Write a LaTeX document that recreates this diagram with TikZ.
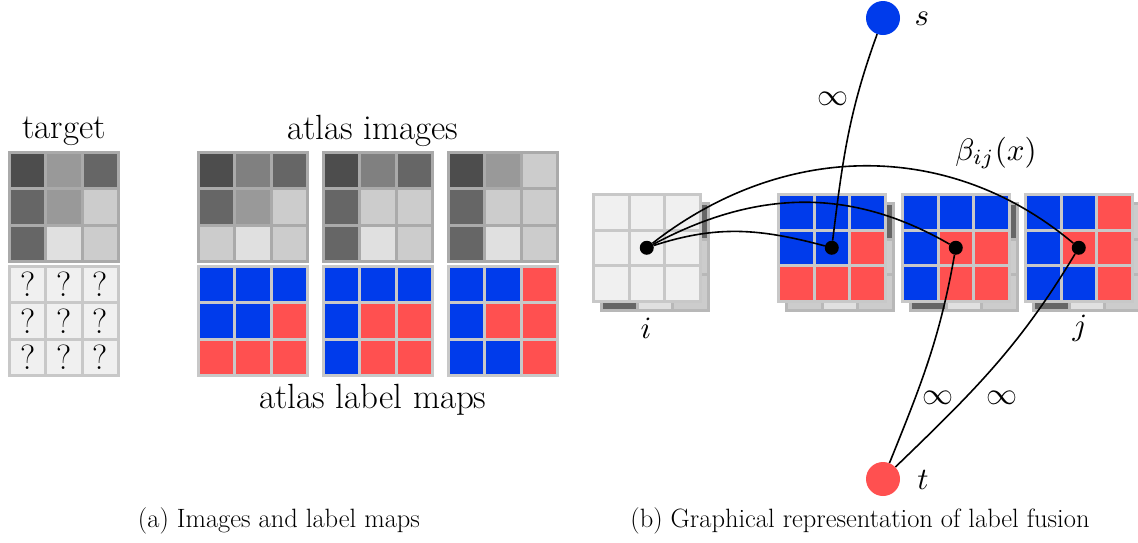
\documentclass[tikz,border=0pt]{standalone}
\usepackage{fontspec}
\definecolor{ga}{HTML}{4D4D4D}
\definecolor{gb}{HTML}{666666}
\definecolor{gc}{HTML}{808080}
\definecolor{gd}{HTML}{999999}
\definecolor{ge}{HTML}{CCCCCC}
\definecolor{gf}{HTML}{E0E0E0}
\definecolor{qq}{HTML}{F0F0F0}
\definecolor{bl}{HTML}{003BEB}
\definecolor{rd}{HTML}{FF5050}
\definecolor{imgborder}{HTML}{AAAAAA}
\definecolor{labborder}{HTML}{C8C8C8}
\definecolor{backborder}{HTML}{B8B8B8}
\newcommand\bigmath[1]{\scalebox{3.1}{$#1$}}
\tikzset{
  dotnode/.style={circle, fill=black, inner sep=0pt, minimum size=14pt},
  termnode/.style={circle, inner sep=0pt, minimum size=34pt},
  lbl/.style={font=\fontsize{35}{40}\selectfont, inner sep=0pt},
  captext/.style={font=\fontsize{26.5}{30}\selectfont, inner sep=0pt},
  edgeline/.style={line width=1.6pt}
}
% #1 x, #2 y (top-left of path, pixel coords, y downward), #3 pitch, #4 border colour, #5 colours
\newcommand\pixgrid[5]{%
  \foreach \gcol [count=\k from 0] in {#5}{%
    \pgfmathtruncatemacro\gr{floor(\k/3)}%
    \pgfmathtruncatemacro\gcc{\k-3*\gr}%
    \filldraw[fill=\gcol, draw=#4, line width=3pt] ({#1+\gcc*#3},{-(#2)-\gr*#3}) rectangle ++(#3,-#3);
  }}
\begin{document}
\begin{tikzpicture}[x=1pt,y=1pt]
\clip (0,0) rectangle (1138,-542);
\fill[white] (0,0) rectangle (1138,-542);
% ---------- (a) ----------
\node[lbl, anchor=base] (ttarget) at (64,-138) {target};
\node[lbl, anchor=base] (tatlas) at (373,-139) {atlas images};
\node[lbl, anchor=base] (tlabel) at (373,-408) {atlas label maps};
% target image
\pixgrid{9.5}{152.5}{36.33}{imgborder}{ga,gd,gb,gb,gd,ge,gb,gf,ge}
% target label (unknown)
\pixgrid{9.5}{266.5}{36.33}{labborder}{qq,qq,qq,qq,qq,qq,qq,qq,qq}
\foreach \r in {0,1,2}{
  \foreach \cc in {0,1,2}{
    \node[lbl] (q\r\cc) at ({9.5+36.33*(\cc+0.5)},{-266.5-36.33*(\r+0.5)}) {?};
  }}
% atlas images
\pixgrid{198.5}{152.5}{36.33}{imgborder}{ga,gc,gb,gb,gd,ge,ge,gf,ge}
\pixgrid{323.5}{152.5}{36.33}{imgborder}{ga,gc,gb,gb,ge,ge,gb,gf,ge}
\pixgrid{448.5}{152.5}{36.33}{imgborder}{ga,gd,ge,gb,ge,ge,gb,gf,ge}
% atlas label maps
\pixgrid{198.5}{266.5}{36.33}{labborder}{bl,bl,bl,bl,bl,rd,rd,rd,rd}
\pixgrid{323.5}{266.5}{36.33}{labborder}{bl,bl,bl,bl,rd,rd,bl,rd,rd}
\pixgrid{448.5}{266.5}{36.33}{labborder}{bl,bl,rd,bl,rd,rd,bl,bl,rd}
\node[captext] (capa) at (279,-521) {(a) Images and label maps};
% ---------- (b) ----------
% stacks: back image + front label
\pixgrid{601.5}{203.5}{35.5}{backborder}{ga,gd,gb,gb,gd,ge,gb,gf,ge}
\pixgrid{593.5}{194.5}{35.5}{labborder}{qq,qq,qq,qq,qq,qq,qq,qq,qq}
\pixgrid{786.5}{203.5}{35.5}{backborder}{ga,gc,gb,gb,gd,ge,ge,gf,ge}
\pixgrid{778.5}{194.5}{35.5}{labborder}{bl,bl,bl,bl,bl,rd,rd,rd,rd}
\pixgrid{910.5}{203.5}{35.5}{backborder}{ga,gc,gb,gb,ge,ge,gb,gf,ge}
\pixgrid{902.5}{194.5}{35.5}{labborder}{bl,bl,bl,bl,rd,rd,bl,rd,rd}
\pixgrid{1033.5}{203.5}{35.5}{backborder}{ga,gd,ge,gb,ge,ge,gb,gf,ge}
\pixgrid{1025.5}{194.5}{35.5}{labborder}{bl,bl,rd,bl,rd,rd,bl,bl,rd}
% nodes
\node[dotnode] (di) at (646.75,-247.75) {};
\node[dotnode] (d1) at (831.75,-247.75) {};
\node[dotnode] (d2) at (955.75,-247.75) {};
\node[dotnode] (d3) at (1078.75,-247.75) {};
\node[termnode, fill=bl] (s) at (883,-18) {};
\node[termnode, fill=rd] (t) at (883,-479) {};
% edges
\draw[edgeline] (di) to[out=18,in=165] (d1);
\draw[edgeline] (di) to[out=28,in=150] (d2);
\draw[edgeline] (di) to[out=38,in=140] (d3);
\draw[edgeline] (s) to[out=-110,in=83] (d1);
\draw[edgeline] (t) to[out=68,in=-100] (d2);
\draw[edgeline] (t) to[out=44,in=-121] (d3);
% labels
\node[inner sep=0pt] (ls) at (922,-19) {\bigmath{s}};
\node[inner sep=0pt] (lt) at (923,-480) {\bigmath{t}};
\node[inner sep=0pt] (li) at (646,-328) {\bigmath{i}};
\node[inner sep=0pt] (lj) at (1080,-328) {\bigmath{j}};
\node[inner sep=0pt] (lb) at (996,-153) {\bigmath{\beta_{ij}(x)}};
\node[inner sep=0pt] (inf1) at (833,-99) {\bigmath{\infty}};
\node[inner sep=0pt] (inf2) at (938,-398) {\bigmath{\infty}};
\node[inner sep=0pt] (inf3) at (1002,-398) {\bigmath{\infty}};
\node[captext] (capb) at (860,-521) {(b) Graphical representation of label fusion};
\end{tikzpicture}
\end{document}
